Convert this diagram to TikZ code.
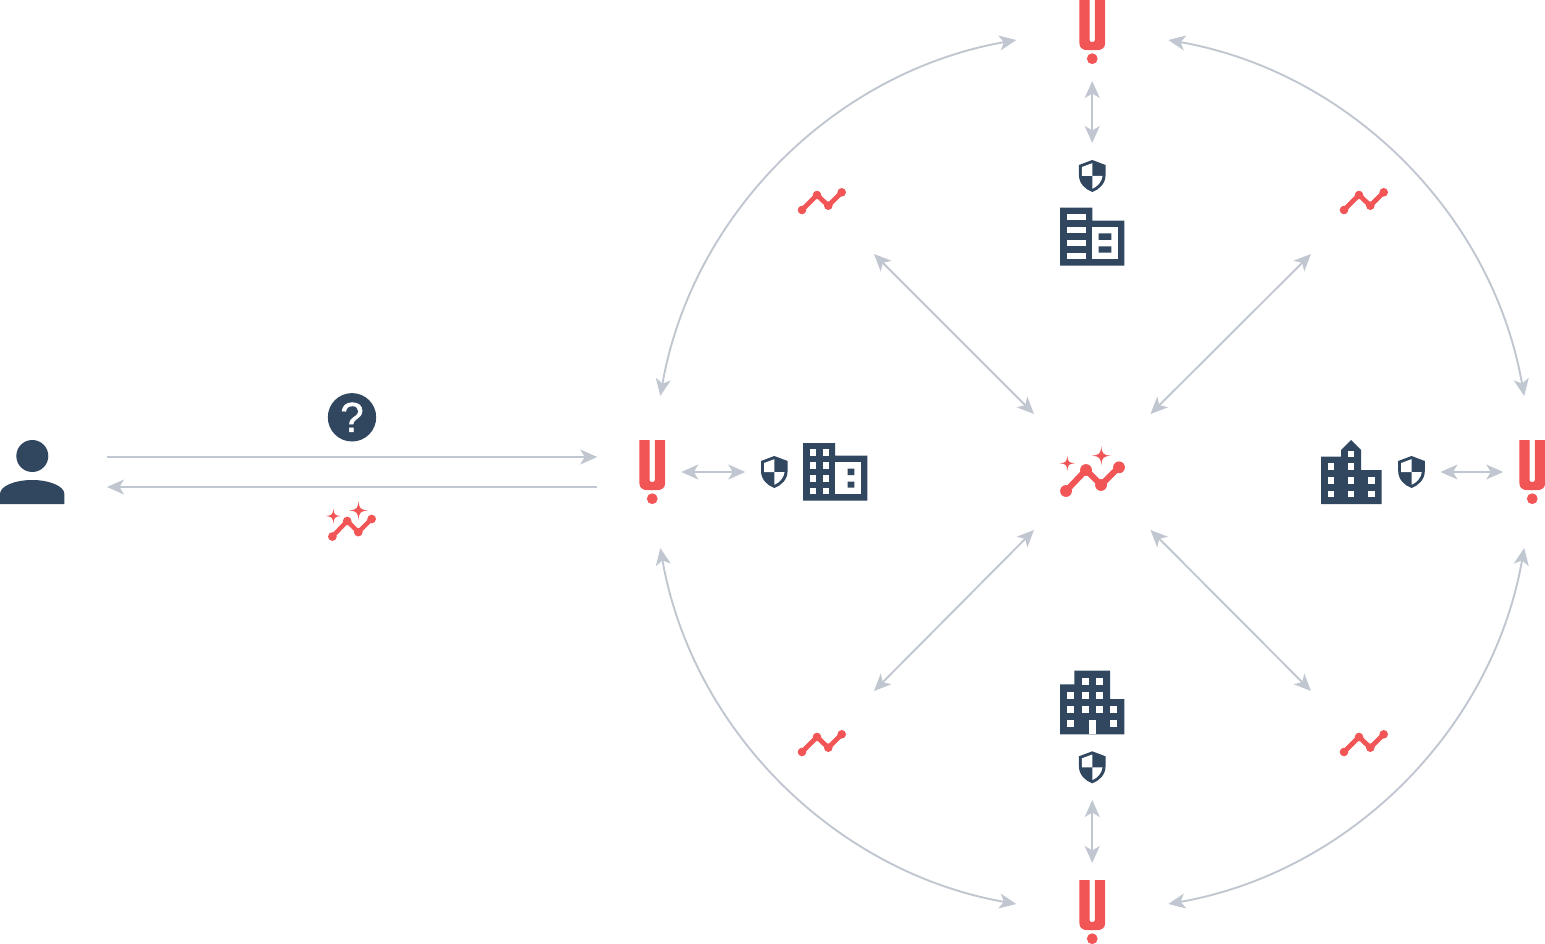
\documentclass[tikz,border=0pt]{standalone}
\usepackage{fontspec}
\setmainfont{Liberation Sans}
\newfontfamily\markfont[FakeBold=1.2]{Liberation Sans}
\usetikzlibrary{arrows.meta}
\definecolor{navy}{HTML}{30475F}
\definecolor{alert}{HTML}{F25556}
\definecolor{link}{HTML}{C1C7D0}
\tikzset{
  x=1pt,y=-1pt,
  conn/.style={draw=link,line width=1.9pt,{Stealth[length=17pt,width=15pt,inset=4.5pt]}-{Stealth[length=17pt,width=15pt,inset=4.5pt]}},
  oneway/.style={draw=link,line width=1.9pt,-{Stealth[length=17pt,width=15pt,inset=4.5pt]}},
  logobox/.style={rectangle,minimum width=58pt,minimum height=98pt,inner sep=0pt,outer sep=0pt},
  shieldbox/.style={rectangle,minimum width=58pt,minimum height=66pt,inner sep=0pt,outer sep=0pt},
  iconbox/.style={rectangle,minimum size=1pt,inner sep=0pt,outer sep=0pt},
  logoicon/.pic={
    \fill[alert] (-12.9,-32) -- (-12.9,11) .. controls (-12.9,16) and (-9.5,18.2) .. (-4,18.2) -- (4,18.2) .. controls (9.5,18.2) and (12.9,16) .. (12.9,11) -- (12.9,-32) -- (2.7,-32) -- (2.7,8) .. controls (2.7,9.5) and (1.5,9.9) .. (0,9.9) .. controls (-1.5,9.9) and (-2.7,9.5) .. (-2.7,8) -- (-2.7,-32) -- cycle;
    \fill[alert] (0,26.7) circle[radius=5.4];
  },
  shieldicon/.pic={
    \fill[navy] (0,-16) -- (13.3,-11) -- (13.3,-1) .. controls (13.3,7.5) and (7,13.5) .. (0,16) .. controls (-7,13.5) and (-13.3,7.5) .. (-13.3,-1) -- (-13.3,-11) -- cycle;
    \fill[white] (0,-12.8) -- (-10.3,-9) -- (-10.3,0) -- (0,0) -- cycle;
    \fill[white] (0,0) -- (10.3,0) .. controls (9.6,6) and (5,10.8) .. (0,12.8) -- cycle;
  },
  trendicon/.pic={
    \draw[alert,line width=4.8pt] (-19.7,9) -- (-4.7,-6) -- (6.6,4.7) -- (20,-8.7);
    \foreach \p in {(-19.7,9),(-4.7,-6),(6.6,4.7),(20,-8.7)} \fill[alert] \p circle[radius=4.3];
  },
  spark/.pic={
    \fill[alert] (0,-1) .. controls (.07,-.2) and (.2,-.07) .. (1,0) .. controls (.2,.07) and (.07,.2) .. (0,1) .. controls (-.07,.2) and (-.2,.07) .. (-1,0) .. controls (-.2,-.07) and (-.07,-.2) .. (0,-1) -- cycle;
  },
  insighticon/.pic={
    \draw[alert,line width=#1] (-26.5,19) -- (-6.5,-2) -- (8.5,13) -- (26.5,-4.7);
    \foreach \p in {(-26.5,19),(-6.5,-2),(8.5,13),(26.5,-4.7)} \fill[alert] \p circle[radius=5.9];
    \pic[xscale=7.5,yscale=-7.5] at (-25.2,-8.7) {spark};
    \pic[xscale=9.5,yscale=-9.5] at (8.8,-16.3) {spark};
  },
}
\begin{document}
\begin{tikzpicture}
\useasboundingbox (0,0) rectangle (1545,944);
% named anchors for each element
\node[iconbox,minimum width=150pt,minimum height=30pt] (user) at (32,472) {};
\node[iconbox] (ask) at (352,417.3) {};
\node[iconbox] (answer) at (352,522.5) {};
\node[logobox] (logoL) at (652.25,472) {};
\node[logobox] (logoR) at (1532.25,472) {};
\node[logobox] (logoT) at (1092.25,32) {};
\node[logobox] (logoB) at (1092.25,912) {};
\node[shieldbox] (shieldL) at (774.3,472) {};
\node[shieldbox] (shieldR) at (1411.5,472) {};
\node[shieldbox] (shieldT) at (1092.25,176) {};
\node[shieldbox] (shieldB) at (1092.25,767) {};
\node[iconbox] (hub) at (1092.5,472) {};
\node[iconbox] (trendTL) at (821.7,201) {};
\node[iconbox] (trendTR) at (1363.7,201) {};
\node[iconbox] (trendBL) at (821.7,743) {};
\node[iconbox] (trendBR) at (1363.7,743) {};
% connectors
\draw[oneway] ([shift={(75,-15)}]user.center) -- ([shift={(-55,-15)}]logoL.center);
\draw[oneway] ([shift={(-55,15)}]logoL.center) -- ([shift={(75,15)}]user.center);
\draw[conn] (logoL.east) -- (shieldL.west);
\draw[conn] (shieldR.east) -- (logoR.west);
\draw[conn] (logoT.south) -- (shieldT.north);
\draw[conn] (shieldB.south) -- (logoB.north);
\draw[conn] ([shift={(-58.5,-58)}]hub.center) -- ([shift={(52.3,53)}]trendTL.center);
\draw[conn] ([shift={(58,-58)}]hub.center) -- ([shift={(-52.7,53)}]trendTR.center);
\draw[conn] ([shift={(-58.5,58)}]hub.center) -- ([shift={(52.3,-52)}]trendBL.center);
\draw[conn] ([shift={(58,58)}]hub.center) -- ([shift={(-52.7,-52)}]trendBR.center);
\def\ringR{438.6}
\draw[conn] ([shift={(-76,8)}]logoT.center) arc[start angle=-99.98,end angle=-170.02,radius=\ringR];
\draw[conn] ([shift={(76,8)}]logoT.center) arc[start angle=-80.02,end angle=-9.98,radius=\ringR];
\draw[conn] ([shift={(-76,-8)}]logoB.center) arc[start angle=99.98,end angle=170.02,radius=\ringR];
\draw[conn] ([shift={(76,-8)}]logoB.center) arc[start angle=80.02,end angle=9.98,radius=\ringR];
% icons
\fill[navy] (32.3,456) circle[radius=16];
\fill[navy] (0,504) -- (0,494) .. controls (0,486) and (15,480) .. (32.2,480) .. controls (49,480) and (64.4,486) .. (64.4,494) -- (64.4,504) -- cycle;
\fill[navy] (ask) circle[radius=24.2];
\node[text=white,font=\fontsize{42}{42}\selectfont\markfont,inner sep=0pt] (askmark) at (352,417.3) {?};
\pic[scale=.74] at (answer) {insighticon=4.4pt};
\pic at (hub) {insighticon=6pt};
\foreach \n in {logoL,logoR,logoT,logoB} \pic at (\n) {logoicon};
\foreach \n in {shieldL,shieldR,shieldT} \pic at (\n) {shieldicon};
\pic at ([yshift=-.3pt]shieldB.center) {shieldicon};
\foreach \n in {trendTL,trendTR,trendBL,trendBR} \pic at (\n) {trendicon};
% left building
\fill[navy] (803,443) -- (835,443) -- (835,455.7) -- (867.3,455.7) -- (867.3,500.7) -- (803,500.7) -- cycle;
\fill[white] (835,462.3) rectangle (861,494);
\fill[navy] (847.7,468.7) rectangle (854.3,475) (847.7,481.7) rectangle (854.3,487.7);
\foreach \x in {809.5,822.5} \foreach \y in {449.3,462.3,475.3,488} \fill[white] (\x,\y) rectangle ++(6.4,6.3);
% right building
\fill[navy] (1321,504) -- (1321,456.7) -- (1341,456.7) -- (1341,450) -- (1351,440) -- (1361,450) -- (1361,470) -- (1381.7,470) -- (1381.7,504) -- cycle;
\foreach \x/\y in {1327.8/463.4,1327.8/477.3,1327.8/490.7,1347.8/450.6,1347.8/463.4,1347.8/477.3,1347.8/490.7,1368.3/477.3,1368.3/490.7} \fill[white] (\x,\y) rectangle ++(6.5,6.4);
% top building
\fill[navy] (1060,207.7) -- (1092.3,207.7) -- (1092.3,220.7) -- (1124.3,220.7) -- (1124.3,265.7) -- (1060,265.7) -- cycle;
\foreach \y in {214,227,240,252.7} \fill[white] (1067,\y) rectangle ++(18.7,6.4);
\fill[white] (1092.3,227) rectangle (1117.7,259);
\fill[navy] (1098.7,233.3) rectangle (1111.3,240) (1098.7,246.3) rectangle (1111.3,252.7);
% bottom building
\fill[navy] (1060,734.3) -- (1060,684.3) -- (1074.3,684.3) -- (1074.3,670.7) -- (1110,670.7) -- (1110,699) -- (1124.3,699) -- (1124.3,734.3) -- cycle;
\foreach \x/\y in {1081.7/677.7,1096/677.7,1067.3/692,1081.7/692,1096/692,1067.3/706.3,1081.7/706.3,1096/706.3,1110.3/706.3,1067.3/720.3,1110.3/720.3} \fill[white] (\x,\y) rectangle ++(7,7);
\fill[white] (1088.7,720.3) rectangle (1096,734.4);
\end{tikzpicture}
\end{document}
